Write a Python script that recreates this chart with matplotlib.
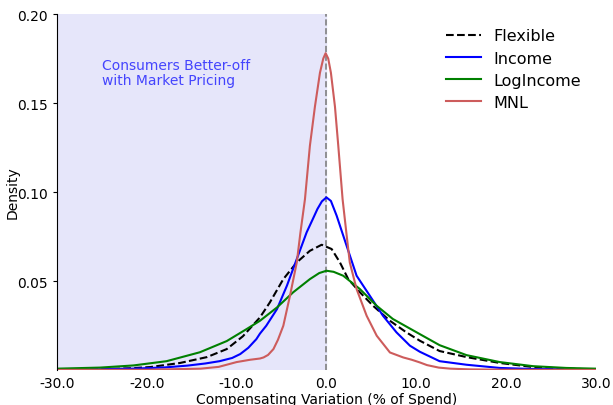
import numpy as np
import matplotlib
matplotlib.use("Agg")
import matplotlib.pyplot as plt

# Density curves of compensating variation (% of spend) by demand model
x_mnl = [-30, -20, -14, -12, -10, -8.5, -7.4, -7.0, -6.5, -5.9, -5.4, -4.8, -4.06, -3.3,
         -2.9, -2.39, -1.84, -1.28, -0.72, -0.35, -0.09, 0.2, 0.5, 0.95, 1.32, 1.8, 2.2,
         2.6, 3.36, 4.48, 5.6, 7.07, 8.55, 9.5, 10.4, 11.2, 12.5, 13.8, 16, 20, 30]
y_mnl = [0.0001, 0.0002, 0.0008, 0.0018, 0.0045, 0.0058, 0.0065, 0.0071, 0.0085, 0.0118,
         0.017, 0.0249, 0.0417, 0.0605, 0.077, 0.096, 0.126, 0.148, 0.167, 0.175, 0.178,
         0.175, 0.167, 0.148, 0.126, 0.096, 0.078, 0.0605, 0.0455, 0.0305, 0.0193,
         0.0099, 0.0071, 0.0058, 0.0043, 0.0028, 0.0014, 0.0008, 0.0004, 0.0002, 0.0001]

x_inc = [-30, -25, -21.5, -18, -15.5, -13.5, -11.9, -10.5, -9.6, -8.7, -7.8, -7.4, -6.7,
         -5.5, -4.4, -3.3, -2.2, -1.5, -1.0, -0.5, 0.0, 0.5, 1.14, 2.25, 3.36, 4.84, 6.3,
         7.8, 9.3, 10.4, 12.6, 15.6, 19.3, 23, 30]
y_inc = [0.0003, 0.0005, 0.0008, 0.0015, 0.0025, 0.0037, 0.005, 0.0068, 0.009, 0.0125,
         0.0174, 0.0205, 0.0249, 0.0343, 0.0474, 0.0624, 0.0774, 0.0850, 0.0905, 0.0948,
         0.097, 0.095, 0.0867, 0.0698, 0.053, 0.0417, 0.0305, 0.0212, 0.0137, 0.0103,
         0.005, 0.003, 0.0012, 0.0006, 0.0003]

x_flex = [-30, -25, -22, -19.6, -16.3, -13.3, -11.1, -9.3, -7.4, -6.3, -4.8, -3.3, -1.84,
          -0.53, 0.58, 1.5, 2.43, 3.73, 5.2, 7.07, 8.9, 10.4, 12.6, 15.6, 19.3, 23,
          26.7, 30]
y_flex = [0.0002, 0.0005, 0.001, 0.0017, 0.004, 0.0073, 0.0118, 0.019, 0.0296, 0.038,
          0.0511, 0.0605, 0.067, 0.0704, 0.068, 0.0605, 0.0511, 0.0437, 0.0361, 0.0277,
          0.0212, 0.0165, 0.0107, 0.0073, 0.004, 0.0017, 0.0008, 0.0004]

x_log = [-30, -25.2, -21.5, -17.8, -14.1, -11.1, -8.9, -7.4, -5.5, -3.7, -1.84, -0.8,
         0.0, 0.8, 1.87, 3.73, 5.6, 7.4, 10.4, 12.6, 15.6, 19.3, 23, 26.7, 30]
y_log = [0.0008, 0.0014, 0.0026, 0.005, 0.010, 0.0163, 0.023, 0.0277, 0.0352, 0.0437,
         0.0511, 0.0545, 0.0558, 0.0552, 0.053, 0.0455, 0.0361, 0.0287, 0.0202, 0.014,
         0.0084, 0.0045, 0.0022, 0.0012, 0.0008]

xticks = [-30, -20, -10, 0, 10, 20, 30]
yticks = [0.05, 0.10, 0.15, 0.20]

fig = plt.figure(figsize=(6.13, 4.06), dpi=100)
ax = fig.add_axes([0.093, 0.086, 0.879, 0.877])

# region where market pricing helps
ax.axvspan(-30, 0, color="lavender", zorder=0)
ax.axvline(0, color="gray", linestyle="--", linewidth=1.2, zorder=1)

ax.plot(x_flex, y_flex, "k--", lw=1.5, label="Flexible")
ax.plot(x_inc, y_inc, color="blue", lw=1.5, label="Income")
ax.plot(x_log, y_log, color="green", lw=1.5, label="LogIncome")
ax.plot(x_mnl, y_mnl, color="indianred", lw=1.5, label="MNL")

ax.text(-25, 0.1755, "Consumers Better-off\nwith Market Pricing", color="blue", alpha=0.7,
        fontsize=10, va="top", ha="left", linespacing=1.15)

ax.set_xlim(-30, 30)
ax.set_ylim(0, 0.2)
ax.set_xticks(xticks)
ax.set_xticklabels([f"{t:.1f}" for t in xticks])
ax.set_yticks(yticks)
ax.set_yticklabels([f"{t:.2f}" for t in yticks])
ax.tick_params(axis="x", length=0, labelsize=10, pad=4)
ax.tick_params(axis="y", length=3, labelsize=10)
ax.set_xlabel("Compensating Variation (% of Spend)", fontsize=10, labelpad=2)
ax.set_ylabel("Density", fontsize=10)
ax.yaxis.set_label_coords(-0.07, 0.5)

for s in ["top", "right", "bottom"]:
    ax.spines[s].set_visible(False)

ax.legend(loc="upper right", frameon=False, fontsize=11.5, handlelength=2.2,
          bbox_to_anchor=(1.0, 1.0), labelspacing=0.45)

plt.savefig("out.png", dpi=100)
